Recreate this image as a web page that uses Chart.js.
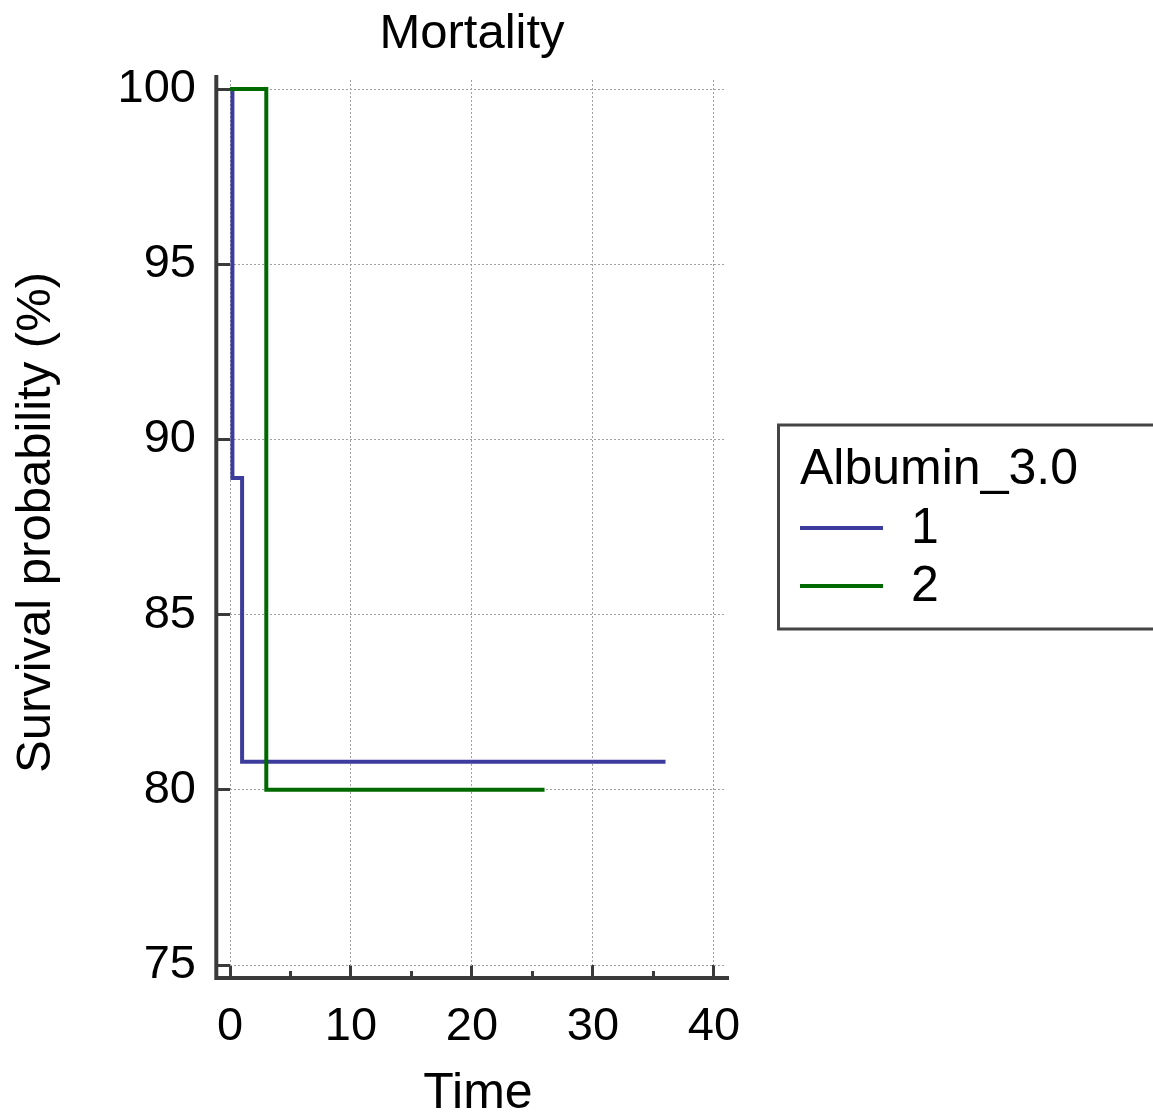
<!DOCTYPE html>
<html><head><meta charset="utf-8">
<script src="https://cdn.jsdelivr.net/npm/chart.js@4.4.1/dist/chart.umd.min.js"></script>
<style>html,body{margin:0;padding:0;background:#fff;overflow:hidden}#wrap{width:1153px;height:1119px}</style>
</head><body><div id="wrap"><canvas id="c" width="1153" height="1119"></canvas></div>
<script>
const chartTitle = 'Mortality';
const xTitle = 'Time';
const yTitle = 'Survival probability (%)';
const legendTitle = 'Albumin_3.0';
const seriesNames = ['1', '2'];
const seriesColors = ['#3c3c9c', '#006a00'];
const group1Time = [0, 0.2, 1, 36];
const group1Surv = [100, 88.9, 80.8, 80.8];
const group2Time = [0, 3, 26];
const group2Surv = [100, 80, 80];
const xTicks = [0, 10, 20, 30, 40];
const xMinorTicks = [5, 15, 25, 35];
const yTicks = [75, 80, 85, 90, 95, 100];

const FONT = "'Liberation Sans', Arial, sans-serif";
const AXIS_COLOR = '#3a3a3a';

const toPts = (xs, ys) => xs.map((x, i) => ({x: x, y: ys[i]}));

const decor = {
  id: 'decor',
  afterDraw(chart) {
    const ctx = chart.ctx;
    const ca = chart.chartArea;
    const xs = chart.scales.x;
    ctx.save();
    // detached axis lines
    const axX = ca.left - 13.7;
    const axY = ca.bottom + 13;
    ctx.strokeStyle = AXIS_COLOR;
    ctx.lineWidth = 4;
    ctx.lineJoin = 'miter';
    ctx.setLineDash([]);
    ctx.beginPath();
    ctx.moveTo(axX, ca.top - 5);
    ctx.lineTo(axX, axY);
    ctx.lineTo(ca.right + 3, axY);
    ctx.stroke();
    // minor ticks
    ctx.lineWidth = 3;
    xMinorTicks.forEach(v => {
      const px = Math.round(xs.getPixelForValue(v)) + 0.5;
      ctx.beginPath();
      ctx.moveTo(px, ca.bottom + 6);
      ctx.lineTo(px, axY);
      ctx.stroke();
    });
    // title
    ctx.fillStyle = '#000';
    ctx.font = '49px ' + FONT;
    ctx.textAlign = 'center';
    ctx.textBaseline = 'alphabetic';
    const cx = (xs.getPixelForValue(xTicks[0]) + xs.getPixelForValue(xTicks[xTicks.length - 1])) / 2;
    ctx.fillText(chartTitle, cx, 48);
    // legend
    const lx = 778.5, ly = 425, lh = 204;
    ctx.strokeStyle = '#444';
    ctx.lineWidth = 3;
    ctx.strokeRect(lx, ly, 400, lh);
    ctx.textAlign = 'left';
    ctx.font = '50px ' + FONT;
    ctx.fillText(legendTitle, 800, 484);
    chart.data.datasets.forEach((ds, i) => {
      const ry = 528 + i * 58;
      ctx.strokeStyle = ds.borderColor;
      ctx.lineWidth = 4;
      ctx.beginPath();
      ctx.moveTo(800, ry);
      ctx.lineTo(883, ry);
      ctx.stroke();
      ctx.fillStyle = '#000';
      ctx.fillText(ds.label, 911, ry + 15);
    });
    ctx.restore();
  }
};

const gridCommon = {
  color: '#a0a0a0',
  lineWidth: 1,
  tickColor: AXIS_COLOR,
  tickWidth: 3,
  tickBorderDash: [],
};

new Chart(document.getElementById('c'), {
  type: 'line',
  data: {
    datasets: [
      {label: seriesNames[0], data: toPts(group1Time, group1Surv), borderColor: seriesColors[0],
       borderWidth: 4, stepped: 'before', pointRadius: 0, fill: false, order: 1, borderJoinStyle: 'miter'},
      {label: seriesNames[1], data: toPts(group2Time, group2Surv), borderColor: seriesColors[1],
       borderWidth: 4, stepped: 'before', pointRadius: 0, fill: false, order: 0, borderJoinStyle: 'miter'}
    ]
  },
  options: {
    responsive: false,
    animation: false,
    devicePixelRatio: 1,
    layout: {padding: {left: 0, right: 427, top: 80, bottom: 0}},
    plugins: {legend: {display: false}, title: {display: false}, tooltip: {enabled: false}},
    scales: {
      x: {
        type: 'linear', min: 0, max: 41,
        afterBuildTicks: s => { s.ticks = xTicks.map(v => ({value: v})); },
        afterFit: s => { s.height = 154; },
        border: {display: false, dash: [2, 2]},
        grid: Object.assign({}, gridCommon, {tickLength: 11}),
        ticks: {font: {size: 47, family: FONT}, color: '#000', padding: 23, maxRotation: 0, autoSkip: false},
        title: {display: true, text: xTitle, font: {size: 50, family: FONT}, color: '#000', padding: {top: 0, bottom: -5}}
      },
      y: {
        type: 'linear', min: 75, max: 100.26,
        afterBuildTicks: s => { s.ticks = yTicks.map(v => ({value: v})); },
        afterFit: s => { s.width = 230; },
        border: {display: false, dash: [2, 2]},
        grid: Object.assign({}, gridCommon, {tickLength: 12}),
        ticks: {font: {size: 47, family: FONT}, color: '#000', padding: 22, autoSkip: false},
        title: {display: true, text: yTitle, font: {size: 49, family: FONT}, color: '#000', padding: {top: 7, bottom: 0}}
      }
    }
  },
  plugins: [decor]
});
</script>
</body></html>
